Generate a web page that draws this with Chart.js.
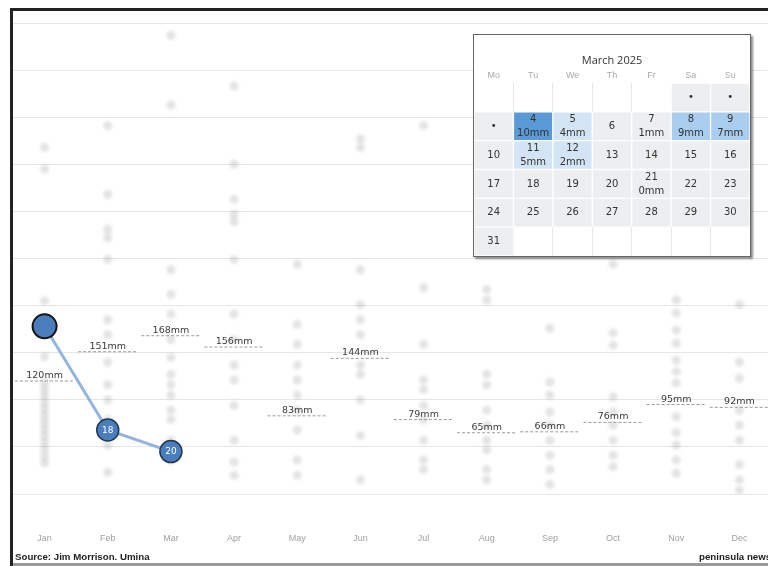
<!DOCTYPE html>
<html>
<head>
<meta charset="utf-8">
<script src="https://cdn.jsdelivr.net/npm/chart.js@4.4.1/dist/chart.umd.min.js"></script>
<style>
  html, body { margin: 0; padding: 0; background: #fff; }
  body { width: 768px; height: 566px; overflow: hidden; position: relative; }
  #frameTop { position: absolute; left: 10px; top: 8px; width: 760px; height: 3px; background: #222; }
  #frameLeft { position: absolute; left: 10px; top: 8px; width: 3px; height: 560px; background: #222; }
  #frameBottom { position: absolute; left: 13px; top: 563px; width: 760px; height: 3px; background: #9a9a9a; }
  #main { position: absolute; left: 13px; top: 0; width: 758px; height: 566px; }
  #cal { position: absolute; left: 473px; top: 34px; width: 276px; height: 221px; border: 1px solid #666;
         background: #fff; box-shadow: 2px 2px 2px rgba(0,0,0,0.45); }
  .src { position: absolute; top: 551px; font: bold 9.7px "Liberation Sans", Arial, sans-serif; color: #222; white-space: nowrap; }
</style>
</head>
<body>
<div id="main"><canvas id="mainChart"></canvas></div>
<div id="frameTop"></div>
<div id="frameLeft"></div>
<div id="frameBottom"></div>
<div id="cal"><canvas id="calChart"></canvas></div>
<div class="src" style="left:15px">Source: Jim Morrison. Umina</div>
<div class="src" style="left:699px">peninsula news</div>
<script>
// Meses y totales mensuales (mm)
const months = ['Jan', 'Feb', 'Mar', 'Apr', 'May', 'Jun', 'Jul', 'Aug', 'Sep', 'Oct', 'Nov', 'Dec'];
const monthTotals = [120, 151, 168, 156, 83, 144, 79, 65, 66, 76, 95, 92];

// Serie 2025 (línea azul)
const lineValues = [178, 68, 45];
const lineLabels = ['', '18', '20'];

// Puntos tenues de años anteriores, por mes (mm)
const dayDots = [
    [368, 345, 205, 146, 118, 111, 104, 97, 90, 83, 76, 69, 62, 55, 48, 40, 33],
    [391, 318, 281, 272, 249, 185, 169, 140, 116, 100, 79, 52, 23],
    [487, 413, 238, 212, 191, 164, 145, 127, 116, 105, 89, 79, 57, 36],
    [433, 350, 313, 297, 289, 249, 191, 164, 137, 121, 94, 57, 34, 20],
    [244, 180, 159, 137, 121, 105, 89, 68, 36, 20],
    [377, 368, 238, 201, 185, 169, 137, 127, 100, 62, 15],
    [391, 219, 159, 121, 111, 94, 79, 57, 36, 26],
    [217, 206, 127, 116, 89, 73, 57, 47, 26, 15],
    [176, 119, 105, 87, 73, 57, 41, 26, 10],
    [244, 171, 158, 103, 87, 73, 57, 41, 29],
    [206, 192, 174, 160, 142, 130, 118, 82, 65, 52, 36, 22],
    [201, 140, 123, 89, 73, 57, 31, 15, 4]
];

// Calendario de marzo 2025
const weekDays = ['Mo', 'Tu', 'We', 'Th', 'Fr', 'Sa', 'Su'];
const daysInMonth = 31;
const firstWeekday = 5; // 1 de marzo 2025 = sábado
const rainDays = [4, 5, 7, 8, 9, 11, 12, 21];
const rainMm = [10, 4, 1, 9, 7, 5, 2, 0];
const dotDays = [1, 2, 3];

// Construir datos del gráfico principal
const avgData = [];
monthTotals.forEach((v, i) => {
    avgData.push({ x: i - 0.47, y: v }, { x: i + 0.47, y: v }, { x: i + 0.5, y: null });
});
const dotData = [];
dayDots.forEach((list, i) => list.forEach(v => dotData.push({ x: i, y: v })));

const mainPlugin = {
    id: 'mainLabels',
    beforeDatasetDraw(chart, args) {
        if (args.index === 2) { chart.ctx.save(); chart.ctx.filter = 'blur(1.5px)'; }
    },
    afterDatasetDraw(chart, args) {
        if (args.index === 2) chart.ctx.restore();
    },
    afterDatasetsDraw(chart) {
        const { ctx, scales: { x, y } } = chart;
        ctx.save();
        ctx.textAlign = 'center';
        ctx.font = '9.5px "DejaVu Sans"';
        ctx.fillStyle = '#3a3a3a';
        ctx.textBaseline = 'alphabetic';
        monthTotals.forEach((v, i) => ctx.fillText(v + 'mm', x.getPixelForValue(i), y.getPixelForValue(v) - 3));
        // Etiquetas dentro de los puntos
        const meta = chart.getDatasetMeta(0);
        ctx.font = '9px "DejaVu Sans"';
        ctx.fillStyle = '#fff';
        ctx.textBaseline = 'middle';
        meta.data.forEach((pt, i) => ctx.fillText(lineLabels[i], pt.x, pt.y + 0.5));
        ctx.restore();
    }
};

new Chart(document.getElementById('mainChart'), {
    type: 'line',
    data: {
        datasets: [
            {
                label: '2025',
                data: lineValues.map((v, i) => ({ x: i, y: v })),
                borderColor: 'rgba(140, 178, 220, 0.95)',
                borderWidth: 3,
                pointRadius: [12, 11, 11],
                pointBackgroundColor: '#4a7dbb',
                pointBorderColor: ['#151515', '#23384f', '#23384f'],
                pointBorderWidth: [2, 1.5, 1.5]
            },
            {
                label: 'Promedio',
                data: avgData,
                borderColor: '#9a9a9a',
                borderWidth: 1,
                borderDash: [3, 2],
                pointRadius: 0,
                spanGaps: false
            },
            {
                label: 'Días',
                data: dotData,
                showLine: false,
                pointRadius: 4.5,
                pointBackgroundColor: 'rgba(150, 150, 150, 0.26)',
                pointBorderWidth: 0
            }
        ]
    },
    options: {
        responsive: true,
        maintainAspectRatio: false,
        animation: false,
        layout: { autoPadding: false, padding: { top: 23, left: 0, right: 0, bottom: 0 } },
        plugins: { legend: { display: false }, tooltip: { enabled: false } },
        scales: {
            x: {
                type: 'linear',
                min: -0.5,
                max: 11.5,
                afterBuildTicks: s => { s.ticks = months.map((m, i) => ({ value: i })); },
                afterFit: s => { s.height = 72; s.paddingLeft = 0; s.paddingRight = 0; },
                grid: { display: false, drawTicks: false },
                border: { display: false },
                ticks: {
                    padding: 39,
                    autoSkip: false,
                    maxRotation: 0,
                    color: '#a0a0a0',
                    font: { family: 'Liberation Sans', size: 9 },
                    callback: v => months[v]
                }
            },
            y: {
                min: 0,
                max: 500,
                afterFit: s => { s.width = 0; },
                ticks: { display: false, stepSize: 50 },
                grid: { color: '#e6e6e6', drawTicks: false },
                border: { display: false }
            }
        }
    },
    plugins: [mainPlugin]
});

// Celdas del calendario
const cells = [];
for (let d = 1; d <= daysInMonth; d++) {
    const k = rainDays.indexOf(d);
    cells.push({
        day: d,
        col: (d - 1 + firstWeekday) % 7,
        row: Math.floor((d - 1 + firstWeekday) / 7),
        mm: k >= 0 ? rainMm[k] : undefined,
        dot: dotDays.includes(d)
    });
}

function cellColour(mm) {
    if (mm === undefined || mm < 2) return '#eceef0';
    if (mm >= 10) return '#5b9bd5';
    if (mm >= 6) return '#a9cdee';
    return '#d3e5f5';
}

const calPlugin = {
    id: 'calLabels',
    afterDatasetsDraw(chart) {
        const { ctx, scales: { x, y } } = chart;
        ctx.save();
        ctx.textAlign = 'center';
        ctx.textBaseline = 'middle';
        ctx.fillStyle = '#333';
        ctx.font = '10px "DejaVu Sans"';
        cells.forEach(c => {
            const px = x.getPixelForValue(c.col);
            const py = y.getPixelForValue(c.row + 0.5);
            if (c.dot) {
                ctx.fillText('•', px, py);
            } else if (c.mm !== undefined) {
                ctx.fillText(String(c.day), px, py - 7);
                ctx.fillText(c.mm + 'mm', px, py + 7);
            } else {
                ctx.fillText(String(c.day), px, py);
            }
        });
        ctx.restore();
    }
};

new Chart(document.getElementById('calChart'), {
    type: 'bar',
    data: {
        labels: weekDays,
        datasets: [{
            data: cells.map(c => ({ x: weekDays[c.col], y: [c.row, c.row + 1] })),
            backgroundColor: cells.map(c => cellColour(c.mm)),
            borderColor: '#fff',
            borderWidth: 1,
            borderSkipped: false,
            categoryPercentage: 1,
            barPercentage: 1
        }]
    },
    options: {
        responsive: true,
        maintainAspectRatio: false,
        animation: false,
        layout: { padding: 0 },
        plugins: {
            legend: { display: false },
            tooltip: { enabled: false },
            title: {
                display: true,
                text: 'March 2025',
                color: '#333',
                font: { family: 'Open Sans', size: 11, weight: 'normal' },
                padding: { top: 19, bottom: 0 }
            }
        },
        scales: {
            x: {
                position: 'top',
                grid: { color: '#e6e6e6', drawTicks: false },
                border: { display: false },
                ticks: { color: '#aaa', font: { family: 'Liberation Sans', size: 9 }, padding: 2.5 }
            },
            y: { min: 0, max: 6, reverse: true, display: false }
        }
    },
    plugins: [calPlugin]
});
</script>
</body>
</html>
